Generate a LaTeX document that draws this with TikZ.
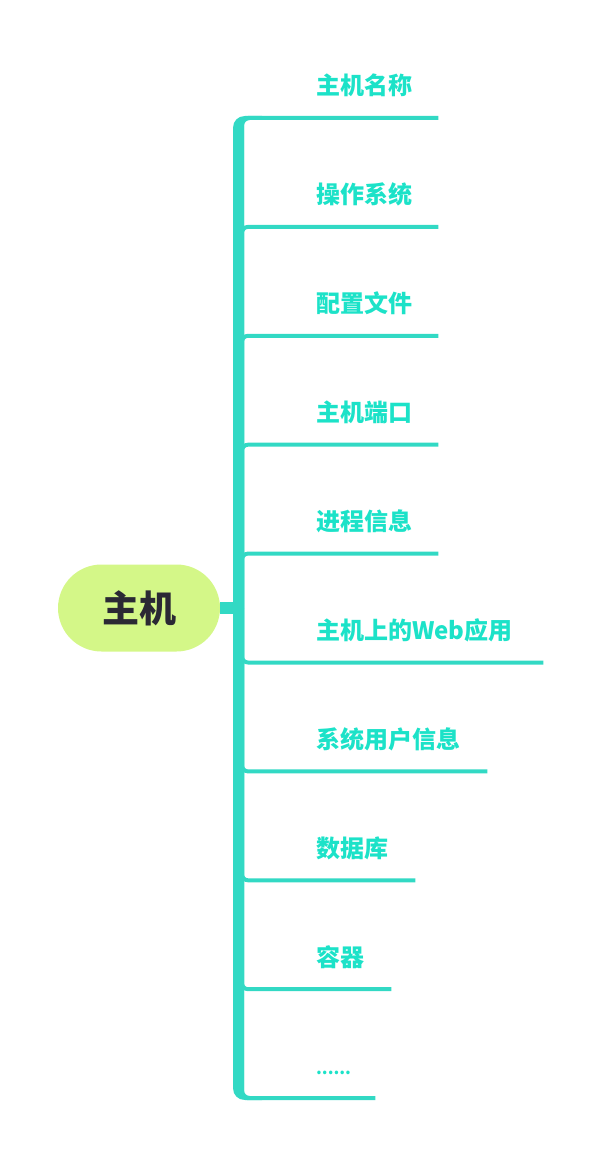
\documentclass[tikz,border=0pt]{standalone}
\usepackage{fontspec}
\newfontfamily\cjk{Noto Sans CJK SC}
\definecolor{mapline}{RGB}{50,217,196}
\definecolor{maptext}{RGB}{28,226,200}
\definecolor{rootfill}{RGB}{212,247,136}
\definecolor{rootink}{RGB}{43,41,52}
\newcommand\moredots{{\fontsize{16.5}{18}\selectfont......}}
\begin{document}
\begin{tikzpicture}[x=1pt, y=-1pt,
  root/.style={fill=rootfill, rounded corners=43.5pt, minimum width=162pt, minimum height=87pt, inner sep=0pt, text=rootink, font=\cjk\bfseries\fontsize{37}{40}\selectfont},
  leaf/.style={anchor=south west, inner xsep=28pt, inner ysep=0pt, align=left, text height=20pt, text depth=23pt, text=maptext, font=\cjk\bfseries\fontsize{24}{26}\selectfont},
  branch/.style={draw=mapline, line width=4pt, rounded corners=6pt}]
\useasboundingbox (0,0) rectangle (600,1158);

% Main bar with rounded top and bottom ends
\fill[mapline] (233,128) .. controls (233,121) and (238,116) .. (245,116) -- (262,116) -- (262,120) -- (250,120)
  .. controls (246.5,120) and (244,122.5) .. (244,126) -- (244,1090)
  .. controls (244,1093.5) and (246.5,1096) .. (250,1096) -- (262,1096) -- (262,1100) -- (245,1100)
  .. controls (238,1100) and (233,1095) .. (233,1088) -- cycle;

% Root topic
\node[root] (root) at (139,608) {主机};
\coordinate (hub) at (242,608);
\draw[mapline, line width=12pt] (root.east) -- (238,608);

% Subtopics, underlined, one every 108.9 units
\foreach \i/\txt/\w in {1/主机名称/94, 2/操作系统/94, 3/配置文件/94, 4/主机端口/94, 5/进程信息/94,
    6/主机上的Web应用/199, 7/系统用户信息/143, 8/数据库/71, 9/容器/47, 10/\moredots/31} {
  \node[leaf, text width=\w pt] (c\i) at (288, {118+(\i-1)*108.9}) {\txt};
  \draw[branch] (hub) |- (c\i.south east);
}

\end{tikzpicture}
\end{document}
